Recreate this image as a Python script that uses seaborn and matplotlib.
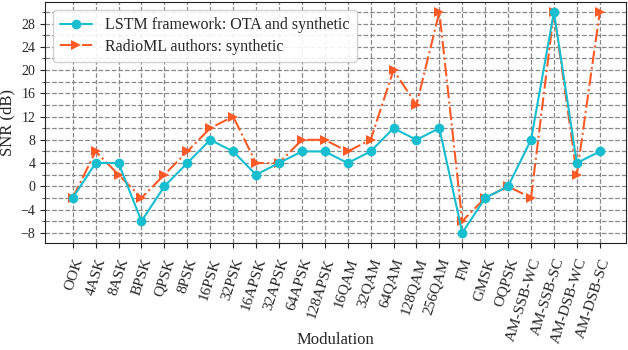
import pandas as pd
import matplotlib.pyplot as plt
import seaborn as sns
from matplotlib.ticker import MultipleLocator

modulations = ["OOK", "4ASK", "8ASK", "BPSK", "QPSK", "8PSK", "16PSK", "32PSK",
               "16APSK", "32APSK", "64APSK", "128APSK", "16QAM", "32QAM", "64QAM",
               "128QAM", "256QAM", "FM", "GMSK", "OQPSK", "AM-SSB-WC", "AM-SSB-SC",
               "AM-DSB-WC", "AM-DSB-SC"]
lstm_snr = [-2, 4, 4, -6, 0, 4, 8, 6, 2, 4, 6, 6, 4, 6, 10, 8, 10, -8, -2, 0, 8, 30, 4, 6]
radioml_snr = [-2, 6, 2, -2, 2, 6, 10, 12, 4, 4, 8, 8, 6, 8, 20, 14, 30, -6, -2, 0, -2, 30, 2, 30]

sns.set_style("ticks")
plt.rcParams['font.family'] = ['Liberation Serif', 'DejaVu Serif']

df = pd.DataFrame({"idx": range(len(modulations)), "lstm": lstm_snr, "radioml": radioml_snr})

fig, ax = plt.subplots(figsize=(6.28, 3.5), dpi=100)

sns.lineplot(data=df, x="idx", y="lstm", ax=ax, color="#17becf", marker="o",
             markersize=7, markeredgewidth=0, linewidth=1.5,
             label="LSTM framework: OTA and synthetic", zorder=3)
sns.lineplot(data=df, x="idx", y="radioml", ax=ax, color="#ff5a26", marker=">",
             markersize=7, markeredgewidth=0, linewidth=1.5, linestyle="-.",
             label="RadioML authors: synthetic", zorder=2)

ax.set_xlim(-1.2, len(modulations) - 1 + 1.15)
ax.set_ylim(-9.8, 31.7)
ax.set_xticks(range(len(modulations)))
ax.set_xticklabels(modulations, rotation=72, ha="right", rotation_mode="anchor", fontsize=11)
ax.tick_params(axis="x", pad=6)
ax.yaxis.set_major_locator(MultipleLocator(4))
ax.yaxis.set_minor_locator(MultipleLocator(2))
ax.tick_params(axis="y", labelsize=10)
ax.grid(True, which="both", color="#888888", linestyle="--", linewidth=0.9)

for s in ax.spines.values():
    s.set_visible(True)
    s.set_color("#222222")

ax.set_xlabel("Modulation", fontsize=12)
ax.xaxis.set_label_coords(0.5, -0.37)
ax.set_ylabel("SNR (dB)", fontsize=12)
ax.legend(loc="upper left", fontsize=11.5, framealpha=0.9, borderpad=0.45,
          handlelength=2.0, labelspacing=0.35)

plt.subplots_adjust(left=0.072, right=0.997, top=0.994, bottom=0.305)
plt.savefig("out.png", dpi=100)
plt.close()
